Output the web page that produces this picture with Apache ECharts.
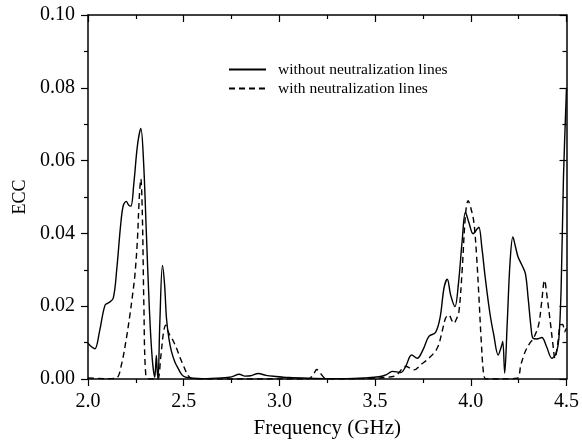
<!DOCTYPE html>
<html>
<head>
<meta charset="utf-8">
<script src="https://cdn.jsdelivr.net/npm/echarts@6/dist/echarts.min.js"></script>
<style>
html,body{margin:0;padding:0;background:#fff;}
#chart{width:582px;height:444px;}
</style>
</head>
<body>
<div id="chart"></div>
<script>
// Frequency (GHz) and ECC values
var withoutFreq = [2.000,2.015,2.036,2.060,2.089,2.110,2.132,2.150,2.170,2.184,2.200,2.212,2.224,2.240,2.258,2.276,2.290,2.305,2.320,2.335,2.349,2.357,2.362,2.366,2.375,2.389,2.400,2.410,2.423,2.436,2.455,2.470,2.490,2.510,2.550,2.600,2.700,2.750,2.790,2.820,2.850,2.890,2.930,2.980,3.050,3.150,3.250,3.350,3.450,3.520,3.560,3.590,3.634,3.660,3.691,3.720,3.750,3.781,3.816,3.840,3.860,3.877,3.895,3.917,3.935,3.955,3.972,3.990,4.012,4.030,4.042,4.058,4.076,4.100,4.120,4.143,4.160,4.167,4.177,4.190,4.205,4.220,4.235,4.247,4.265,4.285,4.300,4.315,4.325,4.345,4.371,4.395,4.424,4.445,4.460,4.472,4.484,4.500];
var withoutEcc = [0.0098,0.0090,0.0083,0.0130,0.0203,0.0210,0.0222,0.0300,0.0420,0.0476,0.0488,0.0478,0.0475,0.0540,0.0640,0.0688,0.0600,0.0400,0.0200,0.0060,0.0005,0.0065,0.0020,0.0000,0.0150,0.0312,0.0260,0.0167,0.0110,0.0076,0.0045,0.0030,0.0012,0.0005,0.0002,0.0001,0.0003,0.0006,0.0013,0.0008,0.0009,0.0015,0.0010,0.0007,0.0004,0.0002,0.0001,0.0001,0.0003,0.0006,0.0012,0.0021,0.0018,0.0035,0.0066,0.0057,0.0080,0.0117,0.0128,0.0170,0.0250,0.0274,0.0230,0.0199,0.0260,0.0380,0.0458,0.0430,0.0399,0.0410,0.0417,0.0360,0.0276,0.0180,0.0121,0.0066,0.0090,0.0103,0.0016,0.0150,0.0320,0.0390,0.0360,0.0335,0.0315,0.0290,0.0220,0.0140,0.0112,0.0110,0.0114,0.0090,0.0057,0.0070,0.0110,0.0250,0.0550,0.0800];

var withFreq = [2.000,2.100,2.149,2.175,2.200,2.219,2.235,2.245,2.258,2.268,2.276,2.284,2.292,2.302,2.320,2.350,2.365,2.380,2.395,2.406,2.415,2.427,2.445,2.462,2.480,2.497,2.520,2.540,2.600,3.150,3.180,3.195,3.215,3.240,3.300,3.500,3.550,3.610,3.660,3.703,3.740,3.781,3.825,3.850,3.868,3.885,3.900,3.911,3.925,3.938,3.955,3.972,3.986,4.000,4.016,4.030,4.042,4.055,4.068,4.080,4.150,4.241,4.262,4.285,4.310,4.328,4.354,4.370,4.385,4.400,4.415,4.428,4.440,4.455,4.467,4.480,4.490,4.500];
var withEcc = [0.0003,0.0001,0.0003,0.0040,0.0110,0.0176,0.0240,0.0285,0.0380,0.0500,0.0549,0.0450,0.0200,0.0010,0.0000,0.0000,0.0000,0.0060,0.0130,0.0148,0.0135,0.0121,0.0105,0.0085,0.0060,0.0039,0.0012,0.0002,0.0000,0.0000,0.0015,0.0026,0.0015,0.0002,0.0000,0.0002,0.0004,0.0010,0.0035,0.0025,0.0040,0.0057,0.0085,0.0130,0.0167,0.0176,0.0162,0.0153,0.0165,0.0185,0.0300,0.0450,0.0490,0.0470,0.0431,0.0340,0.0230,0.0100,0.0010,0.0000,0.0000,0.0002,0.0040,0.0076,0.0100,0.0112,0.0148,0.0210,0.0271,0.0220,0.0158,0.0100,0.0057,0.0100,0.0148,0.0150,0.0130,0.0139];

var seriesNames = ['without neutralization lines', 'with neutralization lines'];
var xTicks = [2.0, 2.5, 3.0, 3.5, 4.0, 4.5];
var yTicks = [0.00, 0.02, 0.04, 0.06, 0.08, 0.10];

function zip(a, b) { return a.map(function (v, i) { return [v, b[i]]; }); }

var FONT = 'Liberation Serif';
var chart = echarts.init(document.getElementById('chart'), null, {renderer: 'canvas'});
var axisLineStyle = {color: '#000', width: 1.5};

chart.setOption({
  animation: false,
  backgroundColor: '#fff',
  grid: {left: 88, right: 14, top: 15, bottom: 63.5, containLabel: false},
  legend: {
    orient: 'vertical',
    left: 228, top: 61.5, padding: 0,
    itemWidth: 37, itemHeight: 16, itemGap: 3,
    data: seriesNames,
    itemStyle: {opacity: 0},
    textStyle: {fontFamily: FONT, fontSize: 15.5, color: '#000', padding: [0, 0, 0, 7]}
  },
  xAxis: [{
    type: 'value', position: 'bottom',
    min: xTicks[0], max: xTicks[xTicks.length - 1], interval: 0.5,
    name: 'Frequency (GHz)', nameLocation: 'middle', nameGap: 39,
    nameTextStyle: {fontFamily: FONT, fontSize: 21, color: '#000'},
    axisLine: {show: true, onZero: false, lineStyle: axisLineStyle},
    axisTick: {show: true, inside: false, length: 7, lineStyle: {color: '#000', width: 1.2}},
    minorTick: {show: true, splitNumber: 2, length: 4, lineStyle: {color: '#000', width: 1.2}},
    axisLabel: {margin: 13, fontFamily: FONT, fontSize: 20, color: '#000',
      formatter: function (v) { return v.toFixed(1); }},
    splitLine: {show: false}
  }, {
    type: 'value', position: 'top',
    min: xTicks[0], max: xTicks[xTicks.length - 1], interval: 0.5,
    axisLine: {show: true, onZero: false, lineStyle: axisLineStyle},
    axisTick: {show: true, inside: true, length: 7, lineStyle: {color: '#000', width: 1.2}},
    minorTick: {show: true, splitNumber: 2, length: 4, lineStyle: {color: '#000', width: 1.2}},
    axisLabel: {show: false},
    splitLine: {show: false}
  }],
  yAxis: [{
    type: 'value', position: 'left',
    min: yTicks[0], max: yTicks[yTicks.length - 1], interval: 0.02,
    name: 'ECC', nameLocation: 'middle', nameGap: 59, nameRotate: 90,
    nameTextStyle: {fontFamily: FONT, fontSize: 18, color: '#000'},
    axisLine: {show: true, onZero: false, lineStyle: axisLineStyle},
    axisTick: {show: true, inside: false, length: 7, lineStyle: {color: '#000', width: 1.2}},
    minorTick: {show: true, splitNumber: 2, length: 4, lineStyle: {color: '#000', width: 1.2}},
    axisLabel: {margin: 13, fontFamily: FONT, fontSize: 20, color: '#000',
      formatter: function (v) { return v.toFixed(2); }},
    splitLine: {show: false}
  }, {
    type: 'value', position: 'right',
    min: yTicks[0], max: yTicks[yTicks.length - 1], interval: 0.02,
    axisLine: {show: true, onZero: false, lineStyle: axisLineStyle},
    axisTick: {show: true, inside: true, length: 7, lineStyle: {color: '#000', width: 1.2}},
    minorTick: {show: true, splitNumber: 2, length: 4, lineStyle: {color: '#000', width: 1.2}},
    axisLabel: {show: false},
    splitLine: {show: false}
  }],
  series: [{
    name: seriesNames[0], type: 'line', xAxisIndex: 0, yAxisIndex: 0,
    data: zip(withoutFreq, withoutEcc),
    symbol: 'none', smooth: 0.35, clip: true,
    lineStyle: {color: '#000', width: 1.4, type: 'solid'},
    itemStyle: {color: '#000'}
  }, {
    name: seriesNames[1], type: 'line', xAxisIndex: 0, yAxisIndex: 0,
    data: zip(withFreq, withEcc),
    symbol: 'none', smooth: 0.35, clip: true,
    lineStyle: {color: '#000', width: 1.4, type: [6, 4]},
    itemStyle: {color: '#000'}
  }]
});
</script>
</body>
</html>
